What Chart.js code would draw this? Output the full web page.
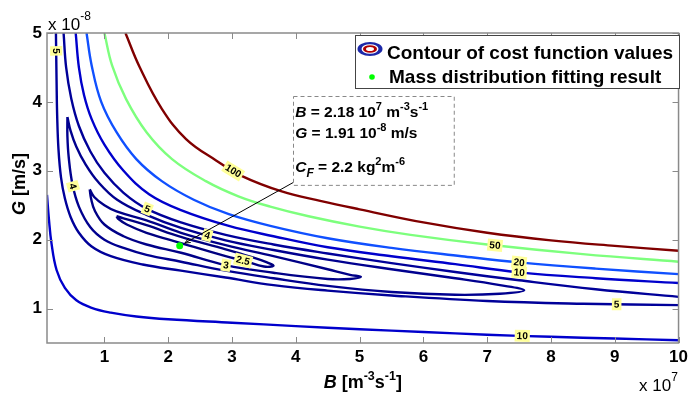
<!DOCTYPE html>
<html>
<head>
<meta charset="utf-8">
<script src="https://cdn.jsdelivr.net/npm/chart.js@4.4.0/dist/chart.umd.min.js"></script>
<style>
    html, body { margin: 0; padding: 0; background: #fff; }
    #wrap { width: 692px; height: 394px; }
</style>
</head>
<body>
<div id="wrap"><canvas id="costChart" width="692" height="394"></canvas></div>
<script>
// Konture funkcije troska, ocitane sa slike (B u 1e7 m^-3 s^-1, G u 1e-8 m/s)
const xTicks = [1, 2, 3, 4, 5, 6, 7, 8, 9, 10];
const yTicks = [1, 2, 3, 4, 5];

const level100 = [[1.33,5.0],[1.55,4.51],[1.9,3.9],[2.28,3.46],[2.75,3.15],[3.14,2.93],[3.78,2.7],[4.4,2.56],[5.0,2.44],[6.0,2.25],[7.0,2.1],[8.0,1.99],[9.0,1.91],[10,1.84]];
const level50 = [[1.0,5.0],[1.12,4.53],[1.34,4.04],[1.66,3.56],[2.06,3.17],[2.59,2.85],[3.1,2.63],[3.6,2.48],[4.2,2.34],[5.0,2.19],[5.8,2.07],[7.0,1.93],[8.5,1.79],[10,1.68]];
const level20 = [[0.72,5.0],[0.8,4.53],[0.95,4.0],[1.19,3.56],[1.5,3.17],[1.9,2.85],[2.4,2.58],[2.95,2.37],[3.6,2.2],[4.5,2.02],[5.5,1.88],[6.6,1.76],[7.5,1.67],[8.7,1.58],[10,1.5]];
const upper10 = [[0.55,5.0],[0.6,4.5],[0.68,4.1],[0.8,3.75],[1.0,3.38],[1.3,3.0],[1.7,2.66],[2.2,2.43],[2.95,2.2],[3.65,2.05],[4.5,1.89],[5.5,1.76],[6.5,1.645],[7.5,1.525],[8.7,1.44],[10,1.37]];
const lower10 = [[0.1,2.65],[0.13,2.3],[0.17,1.95],[0.25,1.56],[0.38,1.3],[0.56,1.12],[0.8,1.01],[1.1,0.94],[1.5,0.885],[2.0,0.845],[3.0,0.795],[4.0,0.745],[5.0,0.7],[6.0,0.66],[7.0,0.62],[8.0,0.59],[9.0,0.565],[10,0.54]];
const upper5 = [[0.36,5.0],[0.4,4.5],[0.48,4.05],[0.6,3.65],[0.78,3.28],[1.0,2.97],[1.3,2.68],[1.66,2.45],[2.2,2.25],[2.9,2.07],[3.65,1.93],[4.5,1.8],[5.5,1.66],[6.5,1.53],[7.5,1.41],[8.7,1.28],[10,1.17]];
const lower5 = [[0.24,5.0],[0.25,4.3],[0.26,3.78],[0.28,3.31],[0.32,2.9],[0.38,2.6],[0.47,2.33],[0.6,2.1],[0.8,1.9],[1.1,1.76],[1.6,1.64],[2.2,1.55],[2.9,1.45],[3.65,1.34],[4.5,1.26],[5.5,1.19],[7.0,1.11],[8.5,1.07],[10,1.05]];
const loop4 = [[0.42,3.78],[0.47,3.58],[0.56,3.35],[0.7,3.1],[0.9,2.84],[1.2,2.58],[1.66,2.36],[2.2,2.17],[2.9,1.99],[3.65,1.85],[4.5,1.71],[5.5,1.57],[6.5,1.44],[7.2,1.34],[7.58,1.265],[7.2,1.215],[6.5,1.2],[5.5,1.24],[4.5,1.33],[3.65,1.44],[2.9,1.55],[2.2,1.68],[1.66,1.78],[1.3,1.88],[1.0,2.0],[0.78,2.18],[0.6,2.48],[0.5,2.8],[0.44,3.2],[0.42,3.5],[0.42,3.78]];
const loop3 = [[0.77,2.73],[0.84,2.62],[1.0,2.5],[1.19,2.41],[1.66,2.28],[2.2,2.1],[2.9,1.92],[3.65,1.76],[4.5,1.57],[4.85,1.49],[5.02,1.46],[4.85,1.43],[4.5,1.43],[3.65,1.52],[2.9,1.63],[2.2,1.81],[1.66,1.93],[1.3,2.05],[1.0,2.22],[0.85,2.42],[0.79,2.6],[0.77,2.73]];
const loop25 = [[1.19,2.34],[1.3,2.31],[1.66,2.21],[2.2,2.04],[2.9,1.86],[3.3,1.75],[3.55,1.67],[3.65,1.62],[3.5,1.61],[3.2,1.69],[2.9,1.76],[2.2,1.95],[1.66,2.1],[1.35,2.22],[1.22,2.3],[1.19,2.34]];

// rezultat fitovanja
const fitB = [2.18];
const fitG = [1.91];

// oznake na konturama
const clabelText = ['5', '4', '5', '4', '2.5', '3', '100', '50', '20', '10', '5', '10'];
const clabelB = [0.22, 0.45, 1.66, 2.6, 3.18, 2.9, 3.0, 7.12, 7.5, 7.5, 9.03, 7.55];
const clabelG = [4.74, 2.76, 2.42, 2.02, 1.72, 1.6, 2.97, 1.9, 1.67, 1.5, 1.06, 0.59];
const clabelLine = [lower5, loop4, upper5, loop4, loop25, loop3, level100, level50, level20, upper10, lower5, lower10];

const FONT = '"Liberation Sans", Arial, sans-serif';

const contours = [
    { pts: loop25, color: '#000080' },
    { pts: loop3, color: '#000087' },
    { pts: loop4, color: '#00008f' },
    { pts: upper5, color: '#000099' },
    { pts: lower5, color: '#000099' },
    { pts: upper10, color: '#0000cc' },
    { pts: lower10, color: '#0000cc' },
    { pts: level20, color: '#1050ff' },
    { pts: level50, color: '#7dff7d' },
    { pts: level100, color: '#800000' }
];

function rich(ctx, parts, x, y, align) {
    let total = 0;
    parts.forEach(p => { ctx.font = p.f; total += ctx.measureText(p.t).width; });
    let cx = align === 'center' ? x - total / 2 : x;
    ctx.textAlign = 'left';
    ctx.textBaseline = 'alphabetic';
    parts.forEach(p => {
        ctx.font = p.f;
        ctx.fillText(p.t, cx, y + (p.dy || 0));
        cx += ctx.measureText(p.t).width;
    });
}

function line(ctx, x1, y1, x2, y2) {
    ctx.beginPath();
    ctx.moveTo(x1, y1);
    ctx.lineTo(x2, y2);
    ctx.stroke();
}

const decor = {
    id: 'decor',
    afterDraw(chart) {
        const ctx = chart.ctx;
        const xs = chart.scales.x;
        const ys = chart.scales.y;
        const { left, right, top, bottom } = chart.chartArea;
        ctx.save();

        // oznake kontura
        clabelText.forEach((txt, i) => {
            const px = xs.getPixelForValue(clabelB[i]);
            const py = ys.getPixelForValue(clabelG[i]);
            const pts = clabelLine[i].map(p => [xs.getPixelForValue(p[0]), ys.getPixelForValue(p[1])]);
            let best = null;
            for (let k = 0; k < pts.length - 1; k++) {
                const [ax, ay] = pts[k];
                const [bx, by] = pts[k + 1];
                const dx = bx - ax, dy = by - ay;
                const len2 = dx * dx + dy * dy || 1;
                let t = ((px - ax) * dx + (py - ay) * dy) / len2;
                t = Math.max(0, Math.min(1, t));
                const qx = ax + t * dx, qy = ay + t * dy;
                const d = (qx - px) ** 2 + (qy - py) ** 2;
                if (!best || d < best.d) best = { d, qx, qy, a: Math.atan2(dy, dx) };
            }
            let a = best.a;
            if (a > Math.PI / 2) a -= Math.PI;
            if (a < -Math.PI / 2) a += Math.PI;
            ctx.save();
            ctx.translate(best.qx, best.qy);
            ctx.rotate(a);
            ctx.font = 'bold 10px ' + FONT;
            const w = ctx.measureText(txt).width + 4;
            ctx.fillStyle = '#ffff99';
            ctx.fillRect(-w / 2, -6, w, 12);
            ctx.fillStyle = '#000';
            ctx.textAlign = 'center';
            ctx.textBaseline = 'middle';
            ctx.fillText(txt, 0, 0.5);
            ctx.restore();
        });

        // okvir i podeoci
        ctx.strokeStyle = '#8a8a8a';
        ctx.lineWidth = 1.5;
        ctx.strokeRect(left, top, right - left, bottom - top);
        ctx.lineWidth = 1;
        xTicks.forEach(v => {
            const p = Math.round(xs.getPixelForValue(v)) + 0.5;
            line(ctx, p, bottom, p, bottom - 6);
            line(ctx, p, top, p, top + 6);
        });
        yTicks.forEach(v => {
            const p = Math.round(ys.getPixelForValue(v)) + 0.5;
            line(ctx, left, p, left + 6, p);
            line(ctx, right, p, right - 6, p);
        });

        // strelica i okvir sa rezultatom
        const bx0 = xs.getPixelForValue(3.96), by0 = ys.getPixelForValue(4.09);
        const bx1 = xs.getPixelForValue(6.48), by1 = ys.getPixelForValue(2.8);
        const ax0 = xs.getPixelForValue(3.96), ay0 = ys.getPixelForValue(2.83);
        const ax1 = xs.getPixelForValue(2.26), ay1 = ys.getPixelForValue(1.95);
        ctx.strokeStyle = '#000';
        ctx.lineWidth = 1;
        line(ctx, ax0, ay0, ax1, ay1);
        const ang = Math.atan2(ay1 - ay0, ax1 - ax0);
        ctx.beginPath();
        ctx.moveTo(ax1 - 6 * Math.cos(ang - 0.4), ay1 - 6 * Math.sin(ang - 0.4));
        ctx.lineTo(ax1, ay1);
        ctx.lineTo(ax1 - 6 * Math.cos(ang + 0.4), ay1 - 6 * Math.sin(ang + 0.4));
        ctx.stroke();

        ctx.fillStyle = '#fff';
        ctx.fillRect(bx0, by0, bx1 - bx0, by1 - by0);
        ctx.setLineDash([4, 3]);
        ctx.strokeStyle = '#888';
        ctx.strokeRect(Math.round(bx0) + 0.5, Math.round(by0) + 0.5, bx1 - bx0, by1 - by0);
        ctx.setLineDash([]);
        ctx.fillStyle = '#000';
        const fb = 'bold 15.5px ' + FONT, fbi = 'italic bold 15.5px ' + FONT, fs = 'bold 11px ' + FONT;
        const tx = bx0 + 2;
        rich(ctx, [
            { t: 'B', f: fbi }, { t: ' = 2.18 10', f: fb }, { t: '7', f: fs, dy: -7 },
            { t: ' m', f: fb }, { t: '-3', f: fs, dy: -7 }, { t: 's', f: fb }, { t: '-1', f: fs, dy: -7 }
        ], tx, by0 + 21);
        rich(ctx, [
            { t: 'G', f: fbi }, { t: ' = 1.91 10', f: fb }, { t: '-8', f: fs, dy: -7 }, { t: ' m/s', f: fb }
        ], tx, by0 + 42);
        rich(ctx, [
            { t: 'C', f: fbi }, { t: 'F', f: 'italic bold 12px ' + FONT, dy: 5 }, { t: ' = 2.2 kg', f: fb },
            { t: '2', f: fs, dy: -7 }, { t: 'm', f: fb }, { t: '-6', f: fs, dy: -7 }
        ], tx, by0 + 76);

        // legenda
        ctx.fillStyle = '#fff';
        ctx.fillRect(355, 35, 324, 53);
        ctx.strokeStyle = '#444';
        ctx.lineWidth = 1;
        ctx.strokeRect(355.5, 35.5, 324, 53);
        const ix = 370, iy = 49;
        [[12.5, 7, '#1c28a8'], [8.5, 4.8, '#fff'], [7, 3.8, '#b00000'], [4, 2, '#fff']].forEach(e => {
            ctx.fillStyle = e[2];
            ctx.beginPath();
            ctx.ellipse(ix, iy, e[0], e[1], 0, 0, Math.PI * 2);
            ctx.fill();
        });
        ctx.fillStyle = '#00ff00';
        ctx.beginPath();
        ctx.arc(372, 77, 2.8, 0, Math.PI * 2);
        ctx.fill();
        ctx.fillStyle = '#000';
        ctx.font = 'bold 19px ' + FONT;
        ctx.textAlign = 'left';
        ctx.textBaseline = 'alphabetic';
        ctx.fillText('Contour of cost function values', 387, 59);
        ctx.fillText('Mass distribution fitting result', 389, 83);

        // eksponenti osa
        const fn = '17px ' + FONT, fsup = '12px ' + FONT;
        rich(ctx, [{ t: 'x 10', f: fn }, { t: '-8', f: fsup, dy: -10 }], 48, 30);
        rich(ctx, [{ t: 'x 10', f: fn }, { t: '7', f: fsup, dy: -10 }], 639, 391);

        // nazivi osa
        const tb = 'bold 18px ' + FONT, tbi = 'italic bold 18px ' + FONT, tsup = 'bold 12.5px ' + FONT;
        rich(ctx, [
            { t: 'B', f: tbi }, { t: ' [m', f: tb }, { t: '-3', f: tsup, dy: -8 },
            { t: 's', f: tb }, { t: '-1', f: tsup, dy: -8 }, { t: ']', f: tb }
        ], (left + right) / 2, 388, 'center');
        ctx.save();
        ctx.translate(25, (top + bottom) / 2 - 4);
        ctx.rotate(-Math.PI / 2);
        rich(ctx, [{ t: 'G', f: tbi }, { t: ' [m/s]', f: tb }], 0, 0, 'center');
        ctx.restore();

        ctx.restore();
    }
};

const datasets = contours.map(c => ({
    data: c.pts.map(p => ({ x: p[0], y: p[1] })),
    borderColor: c.color,
    borderWidth: 2.4,
    pointRadius: 0,
    showLine: true,
    tension: 0.4,
    fill: false,
    order: 1
}));
datasets.push({
    data: fitB.map((b, i) => ({ x: b, y: fitG[i] })),
    backgroundColor: '#00ff00',
    borderWidth: 0,
    pointRadius: 3.5,
    showLine: false,
    order: 0
});

const tickFont = { family: FONT, size: 17, weight: 'bold' };

new Chart(document.getElementById('costChart'), {
    type: 'scatter',
    data: { datasets },
    options: {
        responsive: false,
        animation: false,
        layout: { padding: { left: 0, right: 10, top: 33, bottom: 0 } },
        plugins: { legend: { display: false }, tooltip: { enabled: false } },
        scales: {
            x: {
                type: 'linear',
                min: 0.1,
                max: 10,
                afterBuildTicks: s => { s.ticks = xTicks.map(v => ({ value: v })); },
                afterFit: s => { s.height = 51; },
                grid: { display: false, drawTicks: false },
                border: { display: false },
                ticks: { font: tickFont, color: '#000', padding: 4, maxRotation: 0, autoSkip: false, callback: v => String(v) }
            },
            y: {
                type: 'linear',
                min: 0.5,
                max: 5,
                afterBuildTicks: s => { s.ticks = yTicks.map(v => ({ value: v })); },
                afterFit: s => { s.width = 47; },
                grid: { display: false, drawTicks: false },
                border: { display: false },
                ticks: { font: tickFont, color: '#000', padding: 5, autoSkip: false, callback: v => String(v) }
            }
        }
    },
    plugins: [decor]
});
</script>
</body>
</html>
